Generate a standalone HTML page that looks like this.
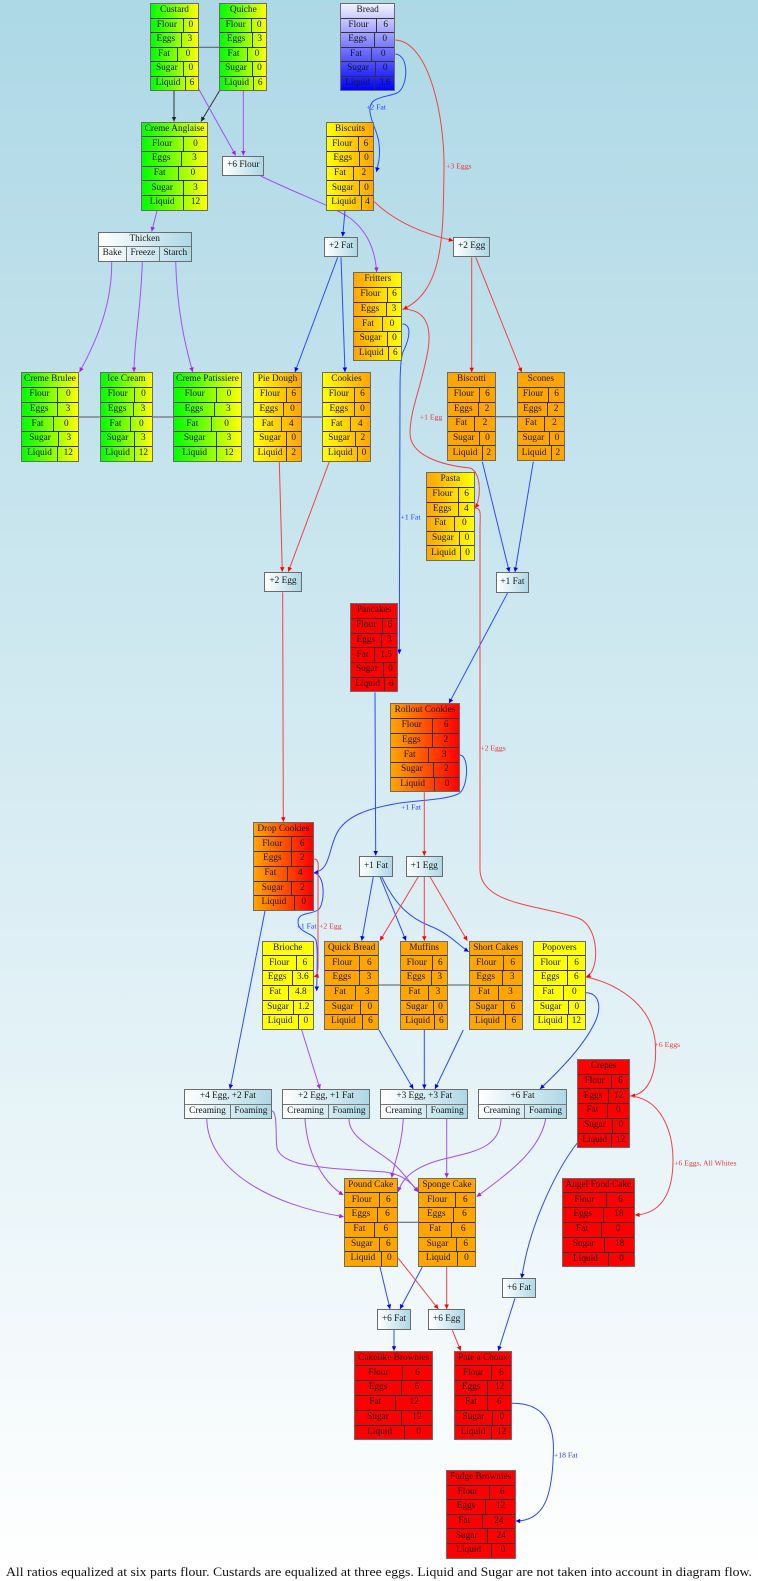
<!DOCTYPE html>
<html><head><meta charset="utf-8">
<style>
html,body{margin:0;padding:0}
body{width:758px;height:1581px;position:relative;overflow:hidden;background:linear-gradient(to bottom,#add8e6 0%,#ffffff 100%);font-family:"Liberation Serif",serif}
svg.e{position:absolute;left:0;top:0}
.n{position:absolute;box-sizing:border-box;border:1px solid #6b6b6b;display:flex;flex-direction:column;font:9.3px/1 "Liberation Serif",serif;color:#151515}
.n>div{flex:1;display:flex;border-top:1px solid #333;min-height:0}
.n>div:first-child{border-top:0;justify-content:center;align-items:center}
.n span{display:flex;align-items:center;justify-content:center;box-sizing:border-box}
.n>div>span:first-child{border-right:1px solid #333}
.n>div>span:last-child{flex:1}
.q>div{border-top-color:#777}
.q>div>span:first-child{border-right-color:#777}
.p{position:absolute;box-sizing:border-box;border:1px solid #6b6b6b;display:flex;align-items:center;justify-content:center;font:9.3px/1 "Liberation Serif",serif;color:#151515;background:linear-gradient(to right,#ffffff,#add8e6)}
.gy{background:linear-gradient(to right,#00ff00,#ffff00)}
.yo{background:linear-gradient(to right,#ffff00,#ffa500)}
.oy{background:linear-gradient(to right,#ffa500,#ffff00)}
.or{background:linear-gradient(to right,#ffa500,#ff0000)}
.o{background:#ffa500}
.r{background:#ff0000}
.y{background:#ffff00}
.wb{background:linear-gradient(to bottom,#f2f2ff,#0000ff)}
.q{background:linear-gradient(to right,#ffffff,#add8e6)}
</style></head><body>

<svg class="e" width="758" height="1581" viewBox="0 0 758 1581">
<defs>
<marker id="mk" viewBox="0 0 10 10" refX="10" refY="5" markerWidth="5" markerHeight="4.5" markerUnits="userSpaceOnUse" orient="auto"><path d="M0,0L10,5L0,10z" fill="#222"/></marker>
<marker id="mp" viewBox="0 0 10 10" refX="10" refY="5" markerWidth="5" markerHeight="4.5" markerUnits="userSpaceOnUse" orient="auto"><path d="M0,0L10,5L0,10z" fill="#a020f0"/></marker>
<marker id="mb" viewBox="0 0 10 10" refX="10" refY="5" markerWidth="5" markerHeight="4.5" markerUnits="userSpaceOnUse" orient="auto"><path d="M0,0L10,5L0,10z" fill="#0000ff"/></marker>
<marker id="mr" viewBox="0 0 10 10" refX="10" refY="5" markerWidth="5" markerHeight="4.5" markerUnits="userSpaceOnUse" orient="auto"><path d="M0,0L10,5L0,10z" fill="#ff0000"/></marker>
</defs>

<g stroke="#555" stroke-width="1">
<line x1="175" y1="47.3" x2="243" y2="47.3"/>
<line x1="50" y1="417" x2="346" y2="417"/>
<line x1="471" y1="416.7" x2="541" y2="416.7"/>
<line x1="350" y1="985" x2="495" y2="985"/>
<line x1="370" y1="1222.3" x2="447" y2="1222.3"/>
</g>

<g fill="none" stroke="#333" stroke-width="1" marker-end="url(#mk)">
<path d="M174,91 L174,121.5"/>
<path d="M220,90 L201,121.5"/>
</g>

<g fill="none" stroke="#a64ff0" stroke-width="1" marker-end="url(#mp)">
<path d="M198.7,89 L235.7,155.5"/>
<path d="M243.3,91 L243.3,155.5"/>
<path d="M260.7,176 C300,195 330,205 350,218 C368,232 375,250 376.7,272"/>
<path d="M157,211 L151.7,231.5"/>
<path d="M111.7,262 C112,300 100,335 79.5,372"/>
<path d="M142.3,262 C141,310 134,340 134,372"/>
<path d="M175.7,262 C177,310 185,345 192.7,372"/>
<path d="M301.7,1030 L320,1089"/>
<path d="M206.7,1119 C208,1170 270,1205 343.7,1216.7"/>
<path d="M271.7,1110.7 C278,1112 275,1135 277,1148 C282,1168 330,1168 385,1172 C402,1174 412,1183 418.3,1191.7"/>
<path d="M305,1119 C307,1150 320,1180 343.3,1195"/>
<path d="M349,1119 C349,1140 380,1150 396,1166 C405,1175 412,1185 418.3,1192"/>
<path d="M403.3,1119 C402,1145 395,1160 391.7,1177.7"/>
<path d="M446.7,1119 L446.7,1177.7"/>
<path d="M501,1119 C500,1150 470,1152 440,1160 C415,1167 402,1178 398.3,1191.7"/>
<path d="M545.7,1119 C540,1150 510,1172 476.7,1196.7"/>
</g>

<g fill="none" stroke="#2a4bff" stroke-width="1" marker-end="url(#mb)">
<path d="M395.3,54 C410,55 408,88 397,93 C385,98 368,96 370,112 C372,128 382,135 379,160 L376.5,172"/>
<path d="M345,210.7 L342.7,236.5"/>
<path d="M337.7,257.3 L295,372"/>
<path d="M341,257.3 L345,372"/>
<path d="M402.3,324 C412,324 410,338 403,352 C400,360 400,380 400,400 L399.3,654"/>
<path d="M482.3,461.7 L509.3,572"/>
<path d="M533.3,461.7 L515,572"/>
<path d="M507.7,592.7 L449,703.3"/>
<path d="M375,692.3 L375.7,855.5"/>
<path d="M460,755 C470,756 468,790 458,794 C445,800 420,800 400,803 C370,808 345,815 336,835 C328,852 330,870 314,872.7"/>
<path d="M313.7,873 C326,874 325,905 318,910 C310,915 298,912 298,922 C298,933 312,932 316,940 C318,948 317,970 316.7,991"/>
<path d="M373.3,876.7 L361.7,940.7"/>
<path d="M380,876.7 L406,940.7"/>
<path d="M381.7,876.7 C395,905 410,918 430,926 C450,934 458,945 468.7,951.7"/>
<path d="M265,911 L230,1089"/>
<path d="M379,1030 L413.3,1089"/>
<path d="M424.3,1030 L424.3,1089"/>
<path d="M463.3,1030 L435,1089"/>
<path d="M586,992.7 C598,993 602,1005 596,1020 C585,1045 560,1070 540,1089"/>
<path d="M577.3,1143 C560,1165 530,1220 521.7,1278.3"/>
<path d="M380,1267 L390,1309"/>
<path d="M422.3,1267 L400,1309"/>
<path d="M394,1330 L394,1350.7"/>
<path d="M515,1298.3 L498.3,1350.7"/>
<path d="M512,1403.3 C545,1403 555,1425 553.3,1455 C552,1495 545,1521 515.7,1521"/>
</g>

<g fill="none" stroke="#ee4444" stroke-width="1" marker-end="url(#mr)">
<path d="M395.3,40 C430,42 445,120 444,170 C443,230 445,290 403,309.3"/>
<path d="M374.3,201.7 C395,222 425,234 453.3,240.7"/>
<path d="M471.7,257.3 L471.7,372.3"/>
<path d="M475.7,257.3 L521.7,372.3"/>
<path d="M402.3,309.3 C425,309 432,325 428,350 C422,385 410,410 410,433 C410,455 440,465 470,468 C482,472 481,500 475,508"/>
<path d="M475,508 C482,508 480,515 480,530 L480,870 C481,905 540,905 578,918 C600,926 600,972 586,977"/>
<path d="M279.3,461.7 L282.3,571.7"/>
<path d="M329.3,461.7 L288.3,571.7"/>
<path d="M282.7,592.3 L283.3,821.7"/>
<path d="M424.3,792.3 L424.3,855.7"/>
<path d="M418.3,876.7 L380,940.7"/>
<path d="M424.3,876.7 L424.3,940.7"/>
<path d="M430,876.7 L467.3,940.7"/>
<path d="M313.7,859 C320,859 318,866 318,880 L318,965 C318,972 317,976 314,976.5"/>
<path d="M586,977 C610,982 650,1000 655,1040 C658,1070 650,1094 630.5,1096"/>
<path d="M630,1096 C660,1098 673,1130 673,1160 C673,1195 660,1214 635,1215"/>
<path d="M398.3,1258.3 L438.3,1309"/>
<path d="M446.7,1267 L446.7,1309"/>
<path d="M452.3,1330 L460.7,1350.7"/>
</g>

<g font-family="Liberation Serif, serif" font-size="7.7" text-anchor="middle">
<g fill="#2040ff">
<text x="376" y="109.5">+2 Fat</text>
<text x="410.5" y="519.5">+1 Fat</text>
<text x="411" y="809.3">+1 Fat</text>
<text x="306.5" y="928.3">+1 Fat</text>
<text x="565.8" y="1457.7">+18 Fat</text>
</g>
<g fill="#e03c3c">
<text x="458.8" y="168.3">+3 Eggs</text>
<text x="431" y="419.3">+1 Egg</text>
<text x="493" y="750.3">+2 Eggs</text>
<text x="330.3" y="928.3">+2 Egg</text>
<text x="667.3" y="1047">+6 Eggs</text>
<text x="705.3" y="1165.3">+6 Eggs, All Whites</text>
</g>
</g>
<text x="379" y="1576" font-family="Liberation Serif, serif" font-size="13" text-anchor="middle" fill="#111" textLength="746" lengthAdjust="spacingAndGlyphs">All ratios equalized at six parts flour. Custards are equalized at three eggs. Liquid and Sugar are not taken into account in diagram flow.</text>
</svg>

<!-- Table nodes -->
<div class="n gy" style="left:150px;top:3px;width:49px;height:88px"><div>Custard</div><div><span style="width:32.7px">Flour</span><span>0</span></div><div><span style="width:30.7px">Eggs</span><span>3</span></div><div><span style="width:27px">Fat</span><span>0</span></div><div><span style="width:32.7px">Sugar</span><span>0</span></div><div><span style="width:35px">Liquid</span><span>6</span></div></div>

<div class="n gy" style="left:219.3px;top:3px;width:48px;height:88px"><div>Quiche</div><div><span style="width:31.7px">Flour</span><span>0</span></div><div><span style="width:32.7px">Eggs</span><span>3</span></div><div><span style="width:27.4px">Fat</span><span>0</span></div><div><span style="width:32.4px">Sugar</span><span>0</span></div><div><span style="width:33.7px">Liquid</span><span>6</span></div></div>

<div class="n wb" style="left:340px;top:3px;width:55.3px;height:88px"><div>Bread</div><div><span style="width:36px">Flour</span><span>6</span></div><div><span style="width:34px">Eggs</span><span>0</span></div><div><span style="width:31px">Fat</span><span>0</span></div><div><span style="width:35px">Sugar</span><span>0</span></div><div><span style="width:34.3px">Liquid</span><span>3.6</span></div></div>

<div class="n gy" style="left:140.7px;top:121.7px;width:67.6px;height:89px"><div>Creme Anglaise</div><div><span style="width:42px">Flour</span><span>0</span></div><div><span style="width:40px">Eggs</span><span>3</span></div><div><span style="width:37px">Fat</span><span>0</span></div><div><span style="width:42px">Sugar</span><span>3</span></div><div><span style="width:42px">Liquid</span><span>12</span></div></div>

<div class="n yo" style="left:325.7px;top:121.7px;width:48.6px;height:89px"><div>Biscuits</div><div><span style="width:32px">Flour</span><span>6</span></div><div><span style="width:33px">Eggs</span><span>0</span></div><div><span style="width:27.6px">Fat</span><span>2</span></div><div><span style="width:33px">Sugar</span><span>0</span></div><div><span style="width:35px">Liquid</span><span>4</span></div></div>

<div class="n oy" style="left:353.3px;top:272.3px;width:49px;height:89px"><div>Fritters</div><div><span style="width:33.4px">Flour</span><span>6</span></div><div><span style="width:32.4px">Eggs</span><span>3</span></div><div><span style="width:28.4px">Fat</span><span>0</span></div><div><span style="width:33.4px">Sugar</span><span>0</span></div><div><span style="width:35px">Liquid</span><span>6</span></div></div>

<div class="n gy" style="left:20.7px;top:372px;width:58.6px;height:89.7px"><div>Creme Brulee</div><div><span style="width:36.6px">Flour</span><span>0</span></div><div><span style="width:36px">Eggs</span><span>3</span></div><div><span style="width:32.6px">Fat</span><span>0</span></div><div><span style="width:37.6px">Sugar</span><span>3</span></div><div><span style="width:36.6px">Liquid</span><span>12</span></div></div>

<div class="n gy" style="left:100px;top:372px;width:52.7px;height:89.7px"><div>Ice Cream</div><div><span style="width:34.3px">Flour</span><span>0</span></div><div><span style="width:33.3px">Eggs</span><span>3</span></div><div><span style="width:30px">Fat</span><span>0</span></div><div><span style="width:34px">Sugar</span><span>3</span></div><div><span style="width:34px">Liquid</span><span>12</span></div></div>

<div class="n gy" style="left:172.7px;top:372px;width:69.6px;height:89.7px"><div>Creme Patissiere</div><div><span style="width:43px">Flour</span><span>0</span></div><div><span style="width:41.6px">Eggs</span><span>3</span></div><div><span style="width:38.3px">Fat</span><span>0</span></div><div><span style="width:43px">Sugar</span><span>3</span></div><div><span style="width:43px">Liquid</span><span>12</span></div></div>

<div class="n yo" style="left:253.3px;top:372px;width:48.4px;height:89.7px"><div>Pie Dough</div><div><span style="width:32.4px">Flour</span><span>6</span></div><div><span style="width:30px">Eggs</span><span>0</span></div><div><span style="width:27.7px">Fat</span><span>4</span></div><div><span style="width:32.4px">Sugar</span><span>0</span></div><div><span style="width:32.4px">Liquid</span><span>2</span></div></div>

<div class="n yo" style="left:322.3px;top:372px;width:48.4px;height:89.7px"><div>Cookies</div><div><span style="width:32px">Flour</span><span>6</span></div><div><span style="width:32px">Eggs</span><span>0</span></div><div><span style="width:27.7px">Fat</span><span>4</span></div><div><span style="width:32.7px">Sugar</span><span>2</span></div><div><span style="width:35px">Liquid</span><span>0</span></div></div>

<div class="n o" style="left:447.3px;top:372.3px;width:48.4px;height:88.7px"><div>Biscotti</div><div><span style="width:32px">Flour</span><span>6</span></div><div><span style="width:31px">Eggs</span><span>2</span></div><div><span style="width:27px">Fat</span><span>2</span></div><div><span style="width:32px">Sugar</span><span>0</span></div><div><span style="width:34.4px">Liquid</span><span>2</span></div></div>

<div class="n o" style="left:516.7px;top:372.3px;width:48.3px;height:88.7px"><div>Scones</div><div><span style="width:31.6px">Flour</span><span>6</span></div><div><span style="width:30.6px">Eggs</span><span>2</span></div><div><span style="width:27.3px">Fat</span><span>2</span></div><div><span style="width:32.3px">Sugar</span><span>0</span></div><div><span style="width:34px">Liquid</span><span>2</span></div></div>

<div class="n oy" style="left:425.7px;top:472.3px;width:49.3px;height:88.7px"><div>Pasta</div><div><span style="width:32.6px">Flour</span><span>6</span></div><div><span style="width:32px">Eggs</span><span>4</span></div><div><span style="width:28px">Fat</span><span>0</span></div><div><span style="width:33.3px">Sugar</span><span>0</span></div><div><span style="width:34.6px">Liquid</span><span>0</span></div></div>

<div class="n r" style="left:350px;top:603.3px;width:48.3px;height:89px"><div>Pancakes</div><div><span style="width:31.7px">Flour</span><span>6</span></div><div><span style="width:30.7px">Eggs</span><span>3</span></div><div><span style="width:24px">Fat</span><span>1.5</span></div><div><span style="width:32.7px">Sugar</span><span>0</span></div><div><span style="width:34.3px">Liquid</span><span>6</span></div></div>

<div class="n or" style="left:390px;top:703.3px;width:70px;height:89px"><div>Rollout Cookies</div><div><span style="width:42.3px">Flour</span><span>6</span></div><div><span style="width:41.7px">Eggs</span><span>2</span></div><div><span style="width:38.3px">Fat</span><span>3</span></div><div><span style="width:42.7px">Sugar</span><span>2</span></div><div><span style="width:44.3px">Liquid</span><span>0</span></div></div>

<div class="n or" style="left:253px;top:821.7px;width:60.7px;height:89.3px"><div>Drop Cookies</div><div><span style="width:37.7px">Flour</span><span>6</span></div><div><span style="width:37.7px">Eggs</span><span>2</span></div><div><span style="width:33.7px">Fat</span><span>4</span></div><div><span style="width:38.3px">Sugar</span><span>2</span></div><div><span style="width:40.7px">Liquid</span><span>0</span></div></div>

<div class="n y" style="left:261.7px;top:940.7px;width:52.3px;height:89.3px"><div>Brioche</div><div><span style="width:34px">Flour</span><span>6</span></div><div><span style="width:30px">Eggs</span><span>3.6</span></div><div><span style="width:26px">Fat</span><span>4.8</span></div><div><span style="width:31.6px">Sugar</span><span>1.2</span></div><div><span style="width:36px">Liquid</span><span>0</span></div></div>

<div class="n o" style="left:324px;top:940.7px;width:55.3px;height:89.3px"><div>Quick Bread</div><div><span style="width:35.3px">Flour</span><span>6</span></div><div><span style="width:34.7px">Eggs</span><span>3</span></div><div><span style="width:31px">Fat</span><span>3</span></div><div><span style="width:36.3px">Sugar</span><span>0</span></div><div><span style="width:37.7px">Liquid</span><span>6</span></div></div>

<div class="n o" style="left:400px;top:940.7px;width:48.3px;height:89.3px"><div>Muffins</div><div><span style="width:32.3px">Flour</span><span>6</span></div><div><span style="width:31px">Eggs</span><span>3</span></div><div><span style="width:27.7px">Fat</span><span>3</span></div><div><span style="width:32.7px">Sugar</span><span>0</span></div><div><span style="width:34.3px">Liquid</span><span>6</span></div></div>

<div class="n o" style="left:468.7px;top:940.7px;width:54px;height:89.3px"><div>Short Cakes</div><div><span style="width:34px">Flour</span><span>6</span></div><div><span style="width:33px">Eggs</span><span>3</span></div><div><span style="width:29.6px">Fat</span><span>3</span></div><div><span style="width:34.6px">Sugar</span><span>6</span></div><div><span style="width:36.3px">Liquid</span><span>6</span></div></div>

<div class="n y" style="left:532.7px;top:940.7px;width:53.3px;height:89.3px"><div>Popovers</div><div><span style="width:34.6px">Flour</span><span>6</span></div><div><span style="width:34px">Eggs</span><span>6</span></div><div><span style="width:30px">Fat</span><span>0</span></div><div><span style="width:35px">Sugar</span><span>0</span></div><div><span style="width:34px">Liquid</span><span>12</span></div></div>

<div class="n r" style="left:577.3px;top:1059px;width:52.7px;height:89.3px"><div>Crepes</div><div><span style="width:33.7px">Flour</span><span>6</span></div><div><span style="width:30.4px">Eggs</span><span>12</span></div><div><span style="width:29.4px">Fat</span><span>0</span></div><div><span style="width:34.4px">Sugar</span><span>0</span></div><div><span style="width:33.7px">Liquid</span><span>12</span></div></div>

<div class="n o" style="left:343.7px;top:1177.7px;width:54px;height:89.3px"><div>Pound Cake</div><div><span style="width:35.3px">Flour</span><span>6</span></div><div><span style="width:33.6px">Eggs</span><span>6</span></div><div><span style="width:30.3px">Fat</span><span>6</span></div><div><span style="width:35.3px">Sugar</span><span>6</span></div><div><span style="width:37.3px">Liquid</span><span>0</span></div></div>

<div class="n o" style="left:418.3px;top:1177.7px;width:57.4px;height:89.3px"><div>Sponge Cake</div><div><span style="width:36.7px">Flour</span><span>6</span></div><div><span style="width:35px">Eggs</span><span>6</span></div><div><span style="width:32.4px">Fat</span><span>6</span></div><div><span style="width:37.4px">Sugar</span><span>6</span></div><div><span style="width:39px">Liquid</span><span>0</span></div></div>

<div class="n r" style="left:561.7px;top:1177.7px;width:73.3px;height:89.6px"><div>Angel Food Cake</div><div><span style="width:44.3px">Flour</span><span>6</span></div><div><span style="width:41px">Eggs</span><span>18</span></div><div><span style="width:39.6px">Fat</span><span>0</span></div><div><span style="width:42.6px">Sugar</span><span>18</span></div><div><span style="width:46.6px">Liquid</span><span>0</span></div></div>

<div class="n r" style="left:354.3px;top:1350.7px;width:79px;height:89.6px"><div>Cakelike Brownies</div><div><span style="width:47.4px">Flour</span><span>6</span></div><div><span style="width:46.4px">Eggs</span><span>6</span></div><div><span style="width:40.7px">Fat</span><span>12</span></div><div><span style="width:46.4px">Sugar</span><span>12</span></div><div><span style="width:49.7px">Liquid</span><span>0</span></div></div>

<div class="n r" style="left:454px;top:1350.7px;width:58px;height:89.6px"><div>Pate a Choux</div><div><span style="width:37px">Flour</span><span>6</span></div><div><span style="width:33.3px">Eggs</span><span>12</span></div><div><span style="width:32.7px">Fat</span><span>6</span></div><div><span style="width:37.7px">Sugar</span><span>0</span></div><div><span style="width:37px">Liquid</span><span>12</span></div></div>

<div class="n r" style="left:445.7px;top:1470px;width:70px;height:88.7px"><div>Fudge Brownies</div><div><span style="width:43px">Flour</span><span>6</span></div><div><span style="width:39.6px">Eggs</span><span>12</span></div><div><span style="width:36.3px">Fat</span><span>24</span></div><div><span style="width:41px">Sugar</span><span>24</span></div><div><span style="width:45px">Liquid</span><span>0</span></div></div>

<!-- Operation nodes -->
<div class="p" style="left:222.3px;top:155.7px;width:42px;height:20.3px">+6 Flour</div>
<div class="p" style="left:324.3px;top:236.7px;width:33.4px;height:20.6px">+2 Fat</div>
<div class="p" style="left:453.3px;top:236.7px;width:36.7px;height:20.6px">+2 Egg</div>
<div class="p" style="left:264.3px;top:571.7px;width:37.4px;height:20.6px">+2 Egg</div>
<div class="p" style="left:495.7px;top:572px;width:33.6px;height:20.7px">+1 Fat</div>
<div class="p" style="left:359.3px;top:855.7px;width:33.4px;height:21px">+1 Fat</div>
<div class="p" style="left:405.7px;top:855.7px;width:37px;height:21px">+1 Egg</div>
<div class="p" style="left:502.3px;top:1278.3px;width:33.4px;height:20px">+6 Fat</div>
<div class="p" style="left:377.3px;top:1309px;width:33.4px;height:21px">+6 Fat</div>
<div class="p" style="left:428.3px;top:1309px;width:36.7px;height:21px">+6 Egg</div>

<div class="n q" style="left:97.7px;top:231.7px;width:94px;height:30px"><div>Thicken</div><div><span style="width:28px">Bake</span><span style="width:33.3px;flex:none;border-right:1px solid #777">Freeze</span><span>Starch</span></div></div>
<div class="n q" style="left:184px;top:1089px;width:87.7px;height:30px"><div>+4 Egg, +2 Fat</div><div><span style="width:46px">Creaming</span><span>Foaming</span></div></div>
<div class="n q" style="left:282px;top:1089px;width:88px;height:30px"><div>+2 Egg, +1 Fat</div><div><span style="width:46px">Creaming</span><span>Foaming</span></div></div>
<div class="n q" style="left:380.3px;top:1089px;width:88px;height:30px"><div>+3 Egg, +3 Fat</div><div><span style="width:45.7px">Creaming</span><span>Foaming</span></div></div>
<div class="n q" style="left:478.3px;top:1089px;width:88.4px;height:30px"><div>+6 Fat</div><div><span style="width:46px">Creaming</span><span>Foaming</span></div></div>

</body></html>
